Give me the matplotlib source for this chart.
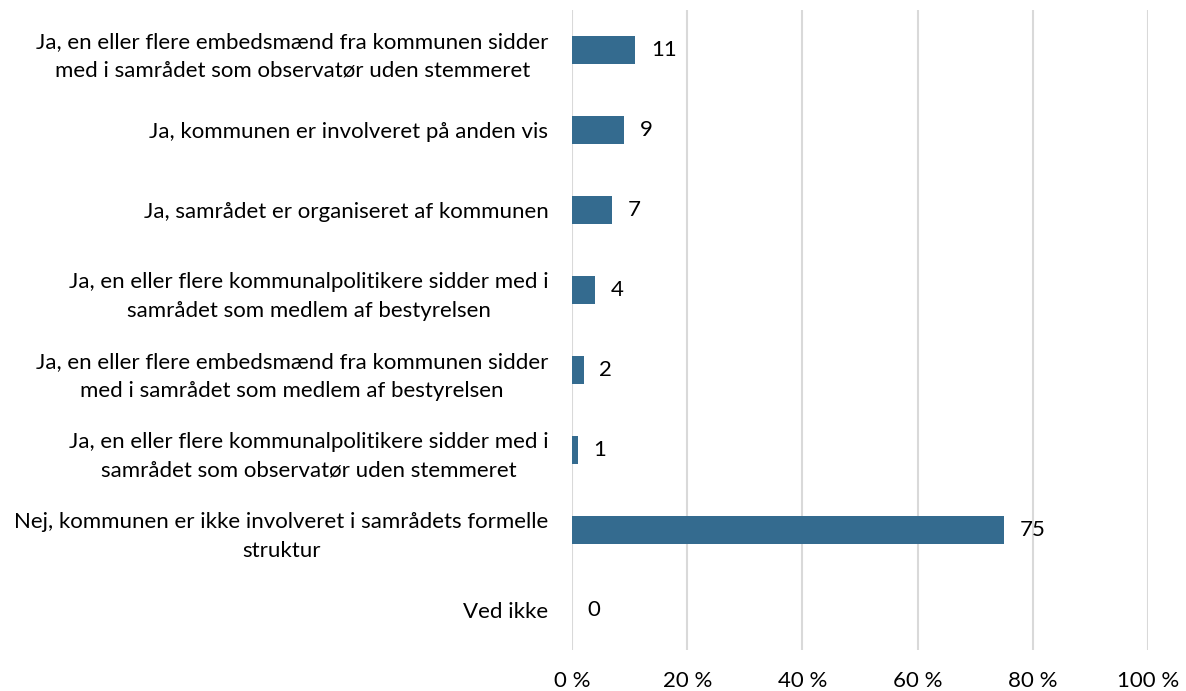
import numpy as np
import matplotlib.pyplot as plt
plt.rcParams['font.family'] = 'Lato'
plt.rcParams['font.size'] = 16

categories = [
    "Ja, en eller flere embedsmænd fra kommunen sidder\nmed i samrådet som observatør uden stemmeret",
    "Ja, kommunen er involveret på anden vis",
    "Ja, samrådet er organiseret af kommunen",
    "Ja, en eller flere kommunalpolitikere sidder med i\nsamrådet som medlem af bestyrelsen",
    "Ja, en eller flere embedsmænd fra kommunen sidder\nmed i samrådet som medlem af bestyrelsen",
    "Ja, en eller flere kommunalpolitikere sidder med i\nsamrådet som observatør uden stemmeret",
    "Nej, kommunen er ikke involveret i samrådets formelle\nstruktur",
    "Ved ikke",
]
values = [11, 9, 7, 4, 2, 1, 75, 0]
xticks = [0, 20, 40, 60, 80, 100]
xticklabels = ['0 %', '20 %', '40 %', '60 %', '80 %', '100 %']

bar_color = '#346B8F'
grid_color = '#D9D9D9'

fig = plt.figure(figsize=(11.86, 6.91), dpi=100)
ax = fig.add_axes([0.4823, 0.0593, 0.968 - 0.4823, 0.9855 - 0.0593])

y = np.arange(len(categories))
ax.barh(y, values, height=0.35, color=bar_color, zorder=3)
for yi, v in zip(y, values):
    ax.text(v + 2.7, yi, str(v), va='center', ha='left', color='black')

ax.set_xlim(0, 100)
ax.set_ylim(len(categories) - 0.5, -0.5)
ax.set_xticks(xticks)
ax.set_xticklabels(xticklabels)
ax.set_yticks(y)
ax.set_yticklabels(categories, multialignment='center', linespacing=1.55)
ax.tick_params(axis='both', length=0)
ax.tick_params(axis='y', pad=17)
ax.tick_params(axis='x', pad=15)
ax.grid(axis='x', color=grid_color, lw=1.5, zorder=0)
for s in ax.spines.values():
    s.set_visible(False)

plt.savefig('out.png', dpi=100)
